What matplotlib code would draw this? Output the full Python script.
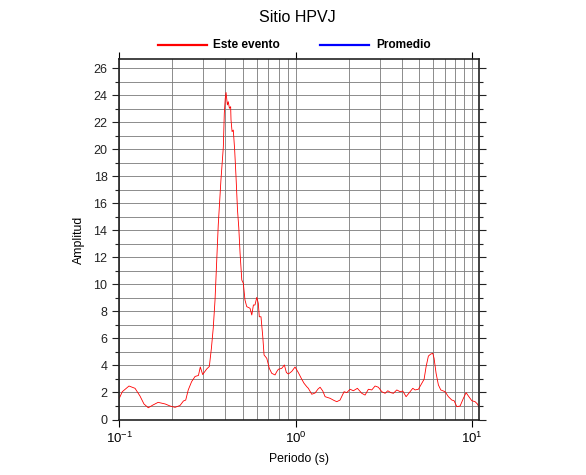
import matplotlib
matplotlib.use("Agg")
import matplotlib.pyplot as plt
from matplotlib.lines import Line2D
from matplotlib.ticker import LogLocator, MultipleLocator, NullFormatter

plt.rcParams['font.family'] = ['Liberation Sans', 'DejaVu Sans']
plt.rcParams['mathtext.fontset'] = 'custom'
plt.rcParams['mathtext.rm'] = 'Liberation Sans'
plt.rcParams['mathtext.it'] = 'Liberation Sans:italic'

title = "Sitio HPVJ"
series_names = ["Este evento", "Promedio"]
series_colors = ["#ff0000", "#0000ff"]

periodo = [0.100, 0.104, 0.1135, 0.1228, 0.131, 0.138, 0.146, 0.155, 0.166, 0.182,
           0.194, 0.207, 0.221, 0.231, 0.238, 0.246, 0.257, 0.269, 0.281, 0.288,
           0.297, 0.313, 0.324, 0.333, 0.341, 0.349, 0.357, 0.364, 0.377, 0.389,
           0.394, 0.399, 0.403, 0.410, 0.415, 0.421, 0.428, 0.430, 0.436, 0.443,
           0.451, 0.459, 0.468, 0.476, 0.484, 0.495, 0.505, 0.516, 0.528, 0.551,
           0.564, 0.576, 0.588, 0.602, 0.614, 0.622, 0.636, 0.651, 0.662, 0.686,
           0.709, 0.732, 0.764, 0.781, 0.798, 0.834, 0.863, 0.886, 0.909, 0.950,
           0.992, 1.036, 1.083, 1.116, 1.156, 1.180, 1.234, 1.288, 1.340, 1.376,
           1.425, 1.469, 1.567, 1.651, 1.711, 1.785, 1.882, 1.950, 2.035, 2.125,
           2.239, 2.371, 2.475, 2.585, 2.702, 2.821, 2.945, 3.079, 3.215, 3.330,
           3.463, 3.583, 3.746, 3.910, 4.051, 4.229, 4.456, 4.616, 4.757, 4.966,
           5.192, 5.350, 5.491, 5.659, 5.839, 5.994, 6.095, 6.257, 6.448, 6.653,
           7.037, 7.347, 7.682, 7.916, 8.200, 8.561, 8.938, 9.259, 9.541, 9.975,
           10.41, 10.73, 10.97]
amplitud = [1.57, 2.06, 2.48, 2.31, 1.74, 1.15, 0.87, 1.07, 1.27, 1.15,
            1.00, 0.90, 1.04, 1.37, 1.44, 2.19, 2.80, 3.19, 3.26, 3.89,
            3.33, 3.74, 3.93, 5.30, 6.78, 8.85, 11.81, 14.41, 17.74, 20.19,
            22.70, 23.81, 24.22, 23.30, 23.54, 23.05, 23.17, 22.19, 21.32, 21.44,
            19.96, 17.99, 15.52, 14.19, 12.31, 10.33, 10.09, 8.85, 8.36, 8.24,
            7.74, 8.48, 8.48, 9.05, 8.61, 7.61, 7.61, 6.13, 4.78, 4.53,
            3.79, 3.42, 3.30, 3.54, 3.72, 3.79, 4.04, 3.48, 3.37, 3.56,
            3.89, 3.47, 2.98, 2.68, 2.43, 2.31, 1.87, 1.96, 2.26, 2.39,
            2.11, 1.69, 1.57, 1.41, 1.32, 1.44, 2.06, 1.99, 2.24, 2.13,
            2.31, 1.94, 1.81, 2.24, 2.19, 2.48, 2.39, 2.06, 1.94, 2.13,
            1.99, 1.94, 2.19, 2.06, 2.11, 1.69, 2.06, 2.31, 2.19, 2.24,
            2.68, 2.98, 3.91, 4.70, 4.85, 4.90, 4.53, 3.42, 2.56, 2.19,
            2.06, 1.69, 1.44, 1.39, 0.95, 1.00, 1.57, 1.99, 1.74, 1.39,
            1.32, 1.15, 0.90]

W, H = 586, 475
fig = plt.figure(figsize=(W / 100, H / 100), dpi=100)
ax = fig.add_axes([119.3 / W, 1 - 419.5 / H, 360.0 / W, 360.2 / H])

ax.plot(periodo, amplitud, color=series_colors[0], lw=0.6)
ax.set_xscale('log')
ax.set_xlim(0.1, 11.0)
ax.set_ylim(0, 26.68)

ax.xaxis.set_major_locator(LogLocator(base=10, numticks=10))
ax.xaxis.set_minor_locator(LogLocator(base=10, subs=range(2, 10), numticks=20))
ax.xaxis.set_minor_formatter(NullFormatter())
ax.yaxis.set_major_locator(MultipleLocator(2))
ax.yaxis.set_minor_locator(MultipleLocator(1))

gc = '#7a7a7a'
ax.grid(True, which='both', color=gc, lw=0.6)
ax.set_axisbelow(True)

for s in ax.spines.values():
    s.set_linewidth(1.2)
    s.set_color('#222222')

ax.tick_params(axis='y', which='both', direction='out', left=True, right=True,
               labelsize=9, colors='#222222', width=0.8)
ax.tick_params(axis='y', which='major', length=5)
ax.tick_params(axis='y', which='minor', length=3)
ax.tick_params(axis='x', which='major', direction='out', top=True, bottom=True,
               length=5, width=0.8, labelsize=9.5, pad=3)
ax.tick_params(axis='x', which='minor', top=False, bottom=False)

ax.set_xlabel("Periodo (s)", fontsize=8.8, labelpad=5)
ax.set_ylabel("Amplitud", fontsize=8.8, labelpad=6)

fig.text(297 / W, 1 - 17 / H, title, ha='center', va='center', fontsize=11.5)

# legend above axes
ly = 1 - 45 / H
fig.add_artist(Line2D([158 / W, 207 / W], [ly, ly], color=series_colors[0], lw=1.6,
                      transform=fig.transFigure))
fig.text(213 / W, ly, series_names[0], ha='left', va='center', fontsize=8.6,
         fontweight='bold')
fig.add_artist(Line2D([320 / W, 369 / W], [ly, ly], color=series_colors[1], lw=1.6,
                      transform=fig.transFigure))
fig.text(376 / W, ly, series_names[1], ha='left', va='center', fontsize=8.6,
         fontweight='bold')

fig.savefig("out.png", dpi=100)
